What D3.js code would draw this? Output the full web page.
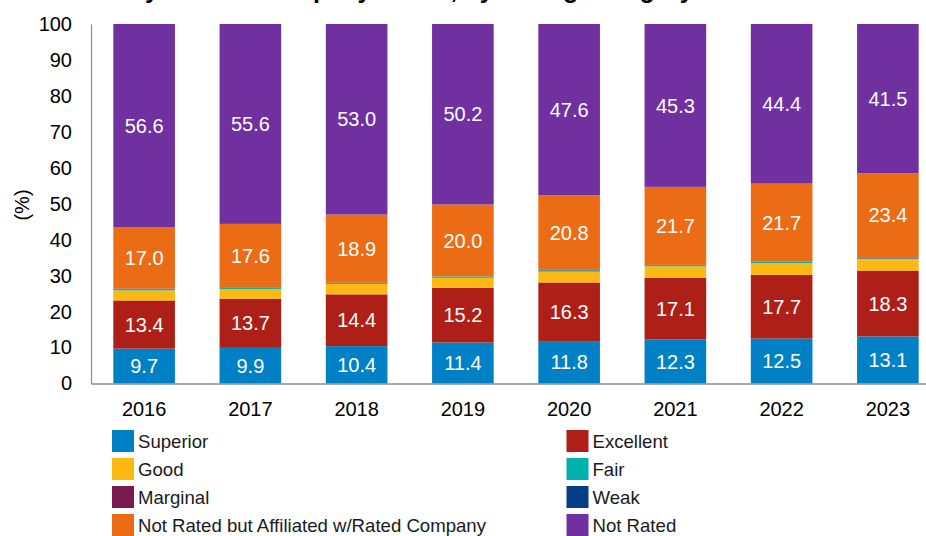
<!DOCTYPE html>
<html>
<head>
<meta charset="utf-8">
<script src="https://cdn.jsdelivr.net/npm/d3@7/dist/d3.min.js"></script>
<style>
  html, body { margin: 0; padding: 0; background: #fff; }
  svg { display: block; font-family: Arial, "Liberation Sans", Helvetica, sans-serif; }
</style>
</head>
<body>
<svg id="chart" width="926" height="536"></svg>
<script>
// ---- data ----
const years = ["2016", "2017", "2018", "2019", "2020", "2021", "2022", "2023"];
const superior   = [9.7, 9.9, 10.4, 11.4, 11.8, 12.3, 12.5, 13.1];
const excellent  = [13.4, 13.7, 14.4, 15.2, 16.3, 17.1, 17.7, 18.3];
const good       = [2.8, 2.7, 2.9, 2.8, 3.0, 3.2, 3.3, 3.2];
const fair       = [0.3, 0.4, 0.3, 0.4, 0.4, 0.3, 0.3, 0.2];
const marginal   = [0.1, 0.05, 0.05, 0.0, 0.05, 0.05, 0.05, 0.2];
const weak       = [0.1, 0.05, 0.05, 0.0, 0.05, 0.05, 0.05, 0.1];
const affiliated = [17.0, 17.6, 18.9, 20.0, 20.8, 21.7, 21.7, 23.4];
const notRated   = [56.6, 55.6, 53.0, 50.2, 47.6, 45.3, 44.4, 41.5];
const yTicks = [0, 10, 20, 30, 40, 50, 60, 70, 80, 90, 100];

const seriesNames = ["Superior", "Excellent", "Good", "Fair", "Marginal", "Weak",
  "Not Rated but Affiliated w/Rated Company", "Not Rated"];
const seriesValues = [superior, excellent, good, fair, marginal, weak, affiliated, notRated];
const seriesColors = ["#0081C6", "#AE1F17", "#FDB913", "#00B2AE", "#7A1A4F", "#033F87", "#EC6C16", "#7030A0"];
const labeled = [true, true, false, false, false, false, true, true];
const legendOrder = [0, 2, 4, 6, 1, 3, 5, 7];

// ---- layout ----
const svg = d3.select("#chart");
const x0 = 91, x1 = 941, yTop = 24, yBottom = 383.5;

const table = years.map((yr, i) => {
  const row = { year: yr };
  seriesNames.forEach((s, k) => row[s] = seriesValues[k][i]);
  return row;
});
const stack = d3.stack().keys(seriesNames)(table);

const x = d3.scaleBand().domain(years).range([x0, x1]).paddingInner(0.42).paddingOuter(0.21);
const y = d3.scaleLinear().domain([0, 100]).range([yBottom, yTop]);

// title (cut off at the top in the reference)
svg.append("text")
  .attr("x", -30).attr("y", -2)
  .attr("font-size", 25).attr("font-weight", "bold").attr("fill", "#000")
  .text("US P/C Industry Insurer Company Count, by Rating Category");

// bars
const layers = svg.append("g").selectAll("g").data(stack).join("g")
  .attr("fill", (d, k) => seriesColors[k]);
layers.selectAll("rect").data(d => d).join("rect")
  .attr("x", d => x(d.data.year))
  .attr("width", x.bandwidth())
  .attr("y", d => y(d[1]))
  .attr("height", d => Math.max(0, y(d[0]) - y(d[1])));

// labels
stack.forEach((layer, k) => {
  if (!labeled[k]) return;
  svg.append("g").selectAll("text").data(layer).join("text")
    .attr("x", d => x(d.data.year) + x.bandwidth() / 2)
    .attr("y", d => (y(d[0]) + y(d[1])) / 2)
    .attr("dy", "0.36em")
    .attr("text-anchor", "middle")
    .attr("font-size", 20)
    .attr("fill", "#fff")
    .text(d => (d[1] - d[0]).toFixed(1));
});

// y axis
const yAxis = d3.axisLeft(y).tickValues(yTicks).tickSize(0).tickPadding(19);
const gy = svg.append("g").attr("transform", `translate(${x0},0)`).call(yAxis);
gy.select(".domain").attr("stroke", "#8c8c8c").attr("stroke-width", 1.2);
gy.selectAll("text").attr("font-size", 20).attr("fill", "#000")
  .attr("font-family", "Arial, 'Liberation Sans', sans-serif");

// x axis
const xAxis = d3.axisBottom(x).tickSize(0).tickPadding(18);
const gx = svg.append("g").attr("transform", `translate(0,${yBottom})`).call(xAxis);
gx.select(".domain").attr("stroke", "#8c8c8c").attr("stroke-width", 1.5);
gx.selectAll("text").attr("font-size", 20).attr("fill", "#000")
  .attr("font-family", "Arial, 'Liberation Sans', sans-serif");

// y axis title
svg.append("text")
  .attr("transform", "translate(29,205) rotate(-90)")
  .attr("text-anchor", "middle")
  .attr("font-size", 20).attr("fill", "#000")
  .text("(%)");

// legend
const legend = svg.append("g");
legendOrder.forEach((k, idx) => {
  const col = Math.floor(idx / 4), row = idx % 4;
  const lx = col === 0 ? 112 : 566.5;
  const ly = 430 + row * 28;
  legend.append("rect").attr("x", lx).attr("y", ly).attr("width", 22).attr("height", 22)
    .attr("fill", seriesColors[k]);
  legend.append("text").attr("x", lx + 26).attr("y", ly + 11).attr("dy", "0.36em")
    .attr("font-size", 18.6).attr("fill", "#1a1a1a").text(seriesNames[k]);
});
</script>
</body>
</html>
